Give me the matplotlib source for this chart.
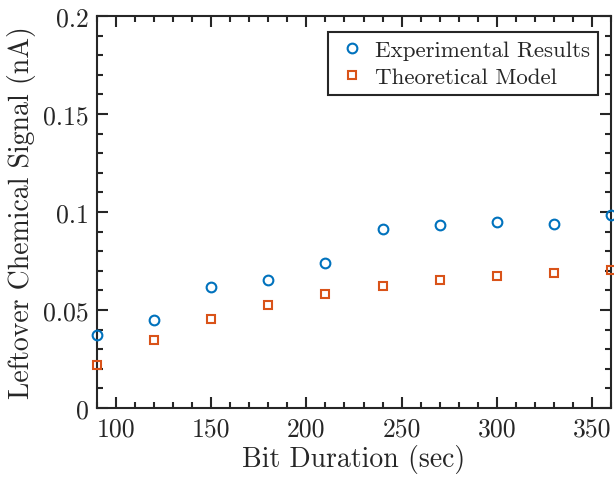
import matplotlib
matplotlib.use("Agg")
import matplotlib.pyplot as plt
from matplotlib.ticker import MultipleLocator

bit_duration = [90, 120, 150, 180, 210, 240, 270, 300, 330, 360]
experimental = [0.0372, 0.0449, 0.0617, 0.0653, 0.0740, 0.0913, 0.0934, 0.0949, 0.0939, 0.0985]
theoretical = [0.0219, 0.0347, 0.0454, 0.0526, 0.0582, 0.0622, 0.0653, 0.0673, 0.0689, 0.0704]
xticks = [100, 150, 200, 250, 300, 350]
yticks = [0, 0.05, 0.1, 0.15, 0.2]
ytick_labels = ["0", "0.05", "0.1", "0.15", "0.2"]

plt.rcParams['font.family'] = ['cmr10', 'DejaVu Serif']
plt.rcParams['mathtext.fontset'] = 'cm'
plt.rcParams['axes.unicode_minus'] = False

fig = plt.figure(figsize=(6.14, 4.81), dpi=100)
ax = fig.add_axes([97/614, 72/481, (611-97)/614, (409-17)/481])

blue = '#0072BD'
orange = '#D95319'
ax.plot(bit_duration, experimental, linestyle='none', marker='o', markersize=7,
        markerfacecolor='none', markeredgecolor=blue, markeredgewidth=1.5,
        label='Experimental Results', clip_on=False, zorder=3)
ax.plot(bit_duration, theoretical, linestyle='none', marker='s', markersize=6,
        markerfacecolor='none', markeredgecolor=orange, markeredgewidth=1.5,
        label='Theoretical Model', clip_on=False, zorder=3)

ax.set_xlim(90, 360)
ax.set_ylim(0, 0.2)
ax.set_xticks(xticks)
ax.set_yticks(yticks)
ax.set_yticklabels(ytick_labels)
ax.xaxis.set_minor_locator(MultipleLocator(10))
ax.yaxis.set_minor_locator(MultipleLocator(0.01))

ax.tick_params(which='both', direction='in', top=True, right=True, width=1.5, color='#262626')
ax.tick_params(which='major', length=8, labelsize=18.5, pad=6, labelcolor='#262626')
ax.tick_params(which='minor', length=4.3)
for s in ax.spines.values():
    s.set_linewidth(1.5)
    s.set_color('#262626')

ax.set_xlabel('Bit Duration (sec)', fontsize=20, color='#262626', labelpad=3)
ax.set_ylabel('Leftover Chemical Signal (nA)', fontsize=20, color='#262626', labelpad=5)

leg = ax.legend(loc='upper right', bbox_to_anchor=(598/614, 1-33/481),
                bbox_transform=fig.transFigure, borderaxespad=0,
                fontsize=16.5, frameon=True, fancybox=False,
                edgecolor='#262626', framealpha=1, borderpad=0.35, handletextpad=0.3,
                handlelength=1.4, labelspacing=0.3)
leg.get_frame().set_linewidth(1.5)
for t in leg.get_texts():
    t.set_color('#262626')

fig.savefig('out.png', dpi=100)
